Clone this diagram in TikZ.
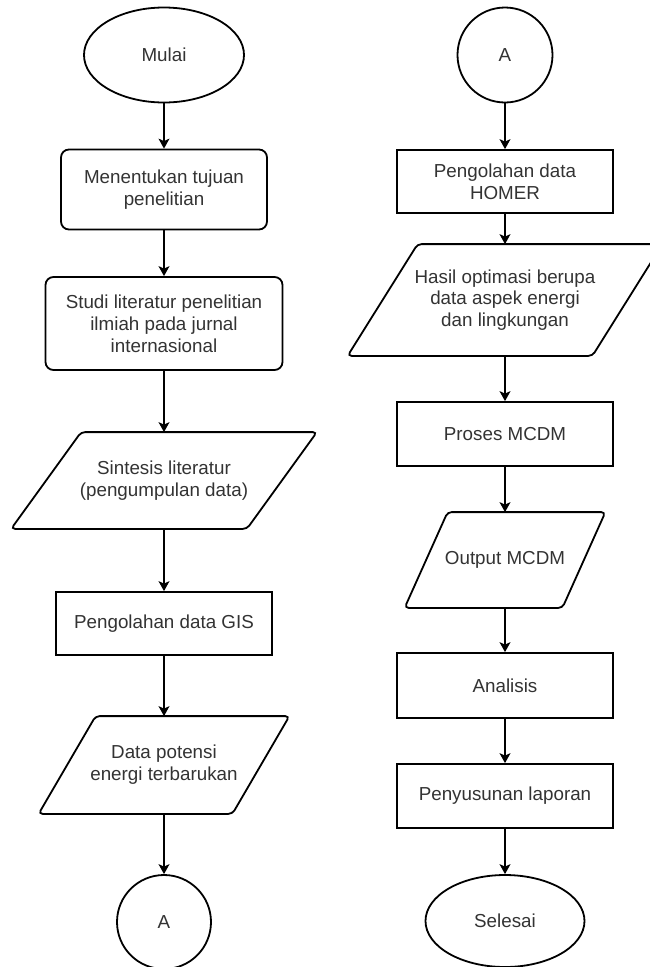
\documentclass[tikz,border=0pt]{standalone}
\usepackage{fontspec}
\setmainfont{Liberation Sans}
\usetikzlibrary{shapes.geometric,arrows.meta}
\definecolor{txt}{RGB}{51,51,51}
\tikzset{
  base/.style={font=\fontsize{18.8}{21.8}\selectfont, text=txt, align=center, inner sep=0pt, line width=1.8pt},
  term/.style={base, draw, ellipse},
  conn/.style={base, draw, circle},
  rbox/.style={base, draw, rectangle, rounded corners=8pt},
  pbox/.style={base, draw, rectangle},
  iobox/.style={base, rectangle},
  par/.style={line width=1.8pt, rounded corners=4pt},
  arr/.style={line width=1.3pt, -{Stealth[length=10pt,width=11pt,inset=2.5pt]}}
}
\newcommand\drawpar[2]{%
  \draw[par] ([xshift=#2]#1.north west) -- ([xshift=#2]#1.north east) -- ([xshift=-#2]#1.south east) -- ([xshift=-#2]#1.south west) -- cycle;}
\begin{document}
\begin{tikzpicture}[x=1pt,y=-1pt]
\useasboundingbox (0,0) rectangle (649,967);
\fill[white] (0,0) rectangle (649,967);
% left column
\node[term, minimum width=160pt, minimum height=95pt] (mulai) at (164,55) {Mulai};
\node[rbox, minimum width=206pt, minimum height=80pt] (tujuan) at (164,189.5) {Menentukan tujuan\\penelitian};
\node[rbox, minimum width=237pt, minimum height=93pt] (studi) at (164,323.5) {Studi literatur penelitian\\ilmiah pada jurnal\\internasional};
\node[iobox, minimum width=234pt, minimum height=95pt] (sint) at (164,480.5) {Sintesis literatur\\(pengumpulan data)};
\drawpar{sint}{35pt}
\node[pbox, minimum width=216pt, minimum height=63pt] (gis) at (164,623.5) {Pengolahan data GIS};
\node[iobox, minimum width=192pt, minimum height=96pt] (pot) at (164,765) {Data potensi\\energi terbarukan};
\drawpar{pot}{28.5pt}
\node[conn, minimum size=94pt] (a1) at (164,922) {A};
% right column
\node[conn, minimum size=95pt] (a2) at (505,55) {A};
\node[pbox, minimum width=216pt, minimum height=63pt] (homer) at (505,181.5) {Pengolahan data\\HOMER};
\node[iobox, minimum width=243pt, minimum height=110pt] (hasil) at (505,300) {Hasil optimasi berupa\\data aspek energi\\dan lingkungan};
\drawpar{hasil}{35pt}
\node[pbox, minimum width=216pt, minimum height=64pt] (proses) at (505,434) {Proses MCDM};
\node[iobox, minimum width=156pt, minimum height=94pt] (out) at (505,560) {Output MCDM};
\drawpar{out}{21.5pt}
\node[pbox, minimum width=216pt, minimum height=65pt] (anal) at (505,685.5) {Analisis};
\node[pbox, minimum width=216pt, minimum height=64pt] (lap) at (505,796) {Penyusunan laporan};
\node[term, minimum width=159pt, minimum height=92pt] (selesai) at (505,921) {Selesai};
% arrows
\draw[arr] (mulai.south) -- (tujuan.north);
\draw[arr] (tujuan.south) -- (studi.north);
\draw[arr] (studi.south) -- (sint.north);
\draw[arr] (sint.south) -- (gis.north);
\draw[arr] (gis.south) -- (pot.north);
\draw[arr] (pot.south) -- (a1.north);
\draw[arr] (a2.south) -- (homer.north);
\draw[arr] (homer.south) -- (hasil.north);
\draw[arr] (hasil.south) -- (proses.north);
\draw[arr] (proses.south) -- (out.north);
\draw[arr] (out.south) -- (anal.north);
\draw[arr] (anal.south) -- (lap.north);
\draw[arr] (lap.south) -- (selesai.north);
\end{tikzpicture}
\end{document}
